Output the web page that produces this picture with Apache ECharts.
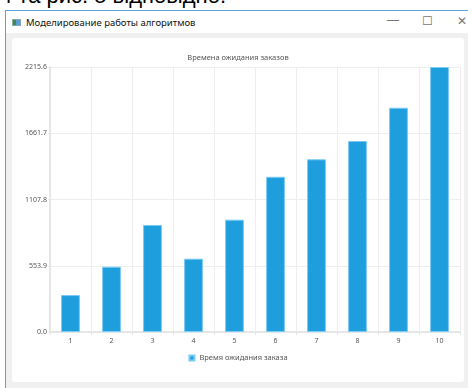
<!DOCTYPE html>
<html>
<head>
<meta charset="utf-8">
<script src="https://cdn.jsdelivr.net/npm/echarts@6/dist/echarts.min.js"></script>
<style>
  html, body { margin: 0; padding: 0; width: 468px; height: 388px; overflow: hidden; background: #fff; font-family: 'Noto Sans', sans-serif; }
  #doc-text { position: absolute; left: 0; top: -17px; font: 22px 'Liberation Sans', Arial, sans-serif; color: #000; white-space: nowrap; }
  #win { position: absolute; left: 5px; top: 10px; width: 470px; height: 390px; border-left: 1px solid #5aa3e0; border-top: 1px solid #5aa3e0; background: #f0f0f0; }
  #titlebar { position: absolute; left: 0; top: 0; right: 0; height: 22px; background: #fff; }
  #icon { position: absolute; left: 6px; top: 8px; width: 9px; height: 7px; background: linear-gradient(90deg, #3a8a4a 0 40%, #5a9ad8 40%); border: 1px solid #8aa; box-sizing: border-box; }
  #title { position: absolute; left: 20px; top: 5px; font-size: 9.5px; color: #111; }
  .ctl { position: absolute; top: 3px; font-size: 12px; color: #777; font-family: 'DejaVu Sans', sans-serif; font-weight: 300; }
  #panel { position: absolute; left: 12px; top: 38px; width: 452px; height: 344px; background: #fff; border-radius: 3px; }
  #chart { position: absolute; left: 0; top: 0; width: 452px; height: 344px; }
</style>
</head>
<body>
<div id="doc-text">4 та рис. 5 відповідно.</div>
<div id="win">
  <div id="titlebar">
    <div class="ctl" style="left:381px; top:2px; font-family:'Liberation Sans', sans-serif;">—</div>
    <div id="icon"></div>
    <div id="title">Моделирование работы алгоритмов</div>
    <div class="ctl" style="left:416px; top:3px;">☐</div>
    <div class="ctl" style="left:451px; top:3px; font-family:'Liberation Sans', sans-serif;">✕</div>
  </div>
</div>
<div id="panel"><div id="chart"></div></div>
<script>
const chartTitle = 'Времена ожидания заказов';
const seriesName = 'Время ожидания заказа';
const categories = ['1', '2', '3', '4', '5', '6', '7', '8', '9', '10'];
const waitTimes = [309, 546, 895, 613, 939, 1298, 1444, 1597, 1875, 2215.6];
const yMax = 2215.6;
const yStep = 553.9;

const chart = echarts.init(document.getElementById('chart'));
const labelStyle = { color: '#555', fontSize: 7, fontFamily: 'Noto Sans' };

chart.setOption({
  animation: false,
  title: {
    text: chartTitle,
    left: 'center',
    top: 11,
    textStyle: { fontSize: 7.5, fontWeight: 'normal', color: '#555', fontFamily: 'Noto Sans' }
  },
  legend: {
    bottom: 15,
    left: 'center',
    icon: 'rect',
    itemWidth: 5,
    itemHeight: 5,
    itemGap: 4,
    textStyle: { ...labelStyle, fontSize: 7.5 },
    data: [seriesName]
  },
  grid: { left: 38, right: 4, top: 29, bottom: 50 },
  xAxis: {
    type: 'category',
    data: categories,
    boundaryGap: true,
    axisLine: { lineStyle: { color: '#e6e6e6', width: 2 } },
    axisTick: { show: true, length: 3, lineStyle: { color: '#e6e6e6' } },
    axisLabel: { ...labelStyle, margin: 5 },
    splitLine: { show: true, lineStyle: { color: '#eeeeee' } }
  },
  yAxis: {
    type: 'value',
    min: 0,
    max: yMax,
    interval: yStep,
    axisLine: { show: true, lineStyle: { color: '#e6e6e6', width: 2 } },
    axisTick: { show: true, length: 2, lineStyle: { color: '#e6e6e6' } },
    axisLabel: { ...labelStyle, margin: 3, formatter: v => v.toFixed(1) },
    splitLine: { show: true, lineStyle: { color: '#eeeeee' } }
  },
  series: [{
    name: seriesName,
    type: 'bar',
    data: waitTimes,
    barWidth: '46%',
    itemStyle: { color: '#1f9ede', borderColor: '#7ccbf3', borderWidth: 1 }
  }]
});
</script>
</body>
</html>
